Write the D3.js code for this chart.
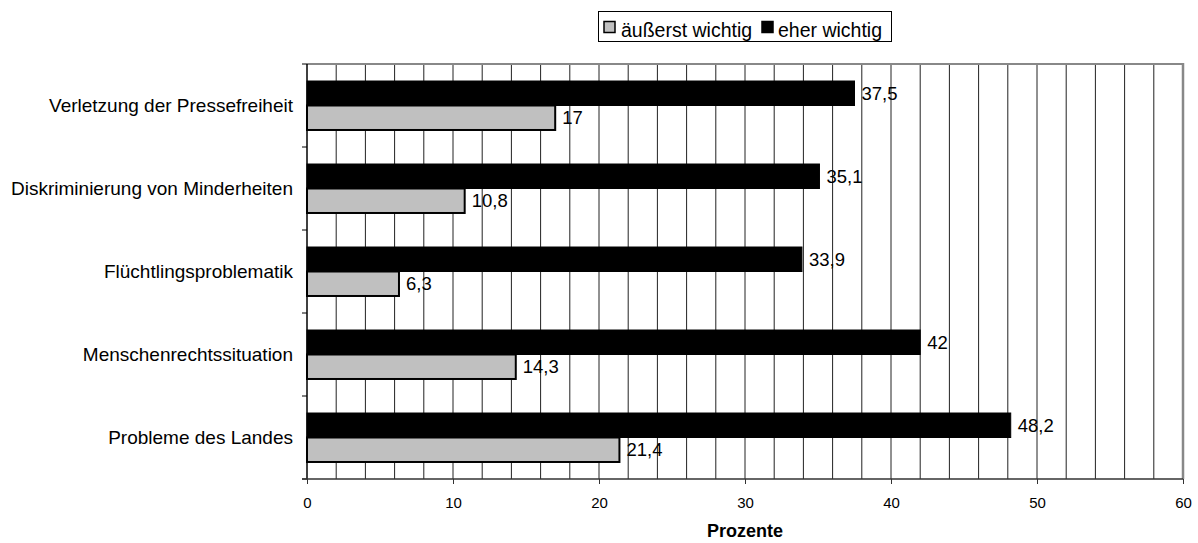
<!DOCTYPE html>
<html>
<head>
<meta charset="utf-8">
<script src="https://cdn.jsdelivr.net/npm/d3@7"></script>
<style>
  html, body { margin: 0; padding: 0; background: #fff; }
  svg { display: block; font-family: "Liberation Sans", Arial, sans-serif; }
</style>
</head>
<body>
<svg id="chart" width="1198" height="543"></svg>
<script>
// Categories, top to bottom
const categories = [
  "Verletzung der Pressefreiheit",
  "Diskriminierung von Minderheiten",
  "Flüchtlingsproblematik",
  "Menschenrechtssituation",
  "Probleme des Landes"
];
const seriesNames = ["eher wichtig", "äußerst wichtig"];
const eherWichtig = [37.5, 35.1, 33.9, 42, 48.2];
const aeusserstWichtig = [17, 10.8, 6.3, 14.3, 21.4];
const xTicks = [0, 10, 20, 30, 40, 50, 60];
const axisTitle = "Prozente";

const fmt = v => String(v).replace(".", ",");

const svg = d3.select("#chart");
const m = { left: 307, right: 1183, top: 64, bottom: 479 };

const x = d3.scaleLinear().domain([0, 60]).range([m.left, m.right]);
const y = d3.scaleBand().domain(categories).range([m.top, m.bottom]).paddingInner(0.41).paddingOuter(0.205);
const sub = d3.scaleBand().domain(seriesNames).range([0, y.bandwidth()]);

// Vertical gridlines every 2 units
const grid = d3.range(2, 60, 2);
svg.append("g").selectAll("line").data(grid).join("line")
  .attr("x1", d => x(d)).attr("x2", d => x(d))
  .attr("y1", m.top).attr("y2", m.bottom)
  .attr("stroke", "#222").attr("stroke-width", 1);

// Plot frame: top and right in gray
svg.append("line").attr("x1", m.left).attr("x2", m.right).attr("y1", m.top).attr("y2", m.top)
  .attr("stroke", "#888").attr("stroke-width", 2);
svg.append("line").attr("x1", m.right).attr("x2", m.right).attr("y1", m.top - 1).attr("y2", m.bottom)
  .attr("stroke", "#888").attr("stroke-width", 2.5);

const rows = categories.map((c, i) => ({ c, eher: eherWichtig[i], aeus: aeusserstWichtig[i] }));

const g = svg.append("g");
// eher wichtig (black, upper)
g.selectAll("rect.eher").data(rows).join("rect").attr("class", "eher")
  .attr("x", x(0)).attr("y", d => y(d.c) + sub("eher wichtig"))
  .attr("width", d => x(d.eher) - x(0)).attr("height", sub.bandwidth())
  .attr("fill", "#000").attr("stroke", "#000").attr("stroke-width", 1);
// äußerst wichtig (gray, lower)
g.selectAll("rect.aeus").data(rows).join("rect").attr("class", "aeus")
  .attr("x", x(0)).attr("y", d => y(d.c) + sub("äußerst wichtig"))
  .attr("width", d => x(d.aeus) - x(0)).attr("height", sub.bandwidth())
  .attr("fill", "#c0c0c0").attr("stroke", "#000").attr("stroke-width", 2);

// Value labels
const valueSize = 18.5;
g.selectAll("text.veher").data(rows).join("text")
  .attr("x", d => x(d.eher) + 7).attr("y", d => y(d.c) + sub("eher wichtig") + sub.bandwidth() / 2)
  .attr("dy", "0.35em").attr("font-size", valueSize).attr("fill", "#000").text(d => fmt(d.eher));
g.selectAll("text.vaeus").data(rows).join("text")
  .attr("x", d => x(d.aeus) + 7).attr("y", d => y(d.c) + sub("äußerst wichtig") + sub.bandwidth() / 2)
  .attr("dy", "0.35em").attr("font-size", valueSize).attr("fill", "#000").text(d => fmt(d.aeus));

// Left axis: ticks at band boundaries
const bounds = d3.range(categories.length + 1).map(i => m.top + i * (m.bottom - m.top) / categories.length);
svg.append("line").attr("x1", m.left).attr("x2", m.left).attr("y1", m.top).attr("y2", m.bottom)
  .attr("stroke", "#000").attr("stroke-width", 1.5);
svg.append("g").selectAll("line").data(bounds).join("line")
  .attr("x1", m.left - 5).attr("x2", m.left).attr("y1", d => d).attr("y2", d => d)
  .attr("stroke", "#000").attr("stroke-width", 1);
svg.append("g").selectAll("text").data(categories).join("text")
  .attr("x", 293).attr("y", d => y(d) + y.bandwidth() / 2)
  .attr("dy", "0.35em").attr("text-anchor", "end").attr("font-size", 19).attr("fill", "#000")
  .text(d => d);

// Bottom axis
const xAxis = d3.axisBottom(x).tickValues(xTicks).tickSize(5).tickFormat(d3.format("d"));
const ax = svg.append("g").attr("transform", `translate(0,${m.bottom})`).call(xAxis);
ax.select(".domain").attr("stroke", "#333").attr("stroke-width", 1.5).attr("d", `M${m.left - 5},0H${m.right}`);
ax.selectAll(".tick line").attr("stroke", "#333");
ax.selectAll(".tick text").attr("font-size", 15).attr("fill", "#000")
  .attr("y", 29).attr("dy", null)
  .attr("font-family", "'Liberation Sans', Arial, sans-serif");

svg.append("text").attr("x", (m.left + m.right) / 2).attr("y", 537)
  .attr("text-anchor", "middle").attr("font-size", 18).attr("font-weight", "bold").text(axisTitle);

// Legend
const lg = svg.append("g");
lg.append("rect").attr("x", 598.5).attr("y", 11.5).attr("width", 293).attr("height", 30)
  .attr("fill", "#fff").attr("stroke", "#000").attr("stroke-width", 1);
const legendItems = [
  { name: "äußerst wichtig", fill: "#c0c0c0", sx: 604, tx: 621 },
  { name: "eher wichtig", fill: "#000", sx: 762, tx: 778 }
];
lg.selectAll("rect.sw").data(legendItems).join("rect").attr("class", "sw")
  .attr("x", d => d.sx).attr("y", 21.5).attr("width", 11).attr("height", 11)
  .attr("fill", d => d.fill).attr("stroke", "#000").attr("stroke-width", 1.5);
lg.selectAll("text").data(legendItems).join("text")
  .attr("x", d => d.tx).attr("y", 37).attr("font-size", 19.5).text(d => d.name);
</script>
</body>
</html>
